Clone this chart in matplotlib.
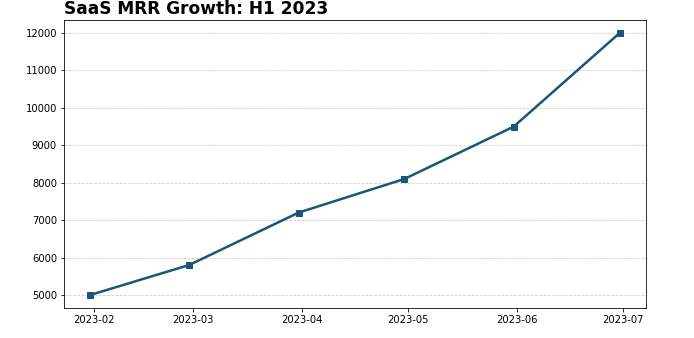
import matplotlib
matplotlib.use("Agg")
import matplotlib.pyplot as plt
import pandas as pd

dates = ["2023-01-31", "2023-02-28", "2023-03-31", "2023-04-30", "2023-05-31", "2023-06-30"]
mrr = [5000, 5800, 7200, 8100, 9500, 12000]
title = "SaaS MRR Growth: H1 2023"

DPI = 72
x = pd.to_datetime(dates)
fig = plt.figure(figsize=(694 / DPI, 338 / DPI), dpi=DPI)
ax = fig.add_axes([64 / 694, 1 - 308 / 338, (646 - 64) / 694, (308 - 20) / 338])
ax.plot(x, mrr, color="#1b5679", linewidth=2.5, marker="s", markersize=6)
ax.grid(axis="y", linestyle="--", color="#cccccc", linewidth=0.8)
ax.set_axisbelow(True)
ax.tick_params(labelsize=10)
ax.set_title(title, loc="left", fontsize=17, fontweight="bold")
fig.savefig("out.png", dpi=DPI)
